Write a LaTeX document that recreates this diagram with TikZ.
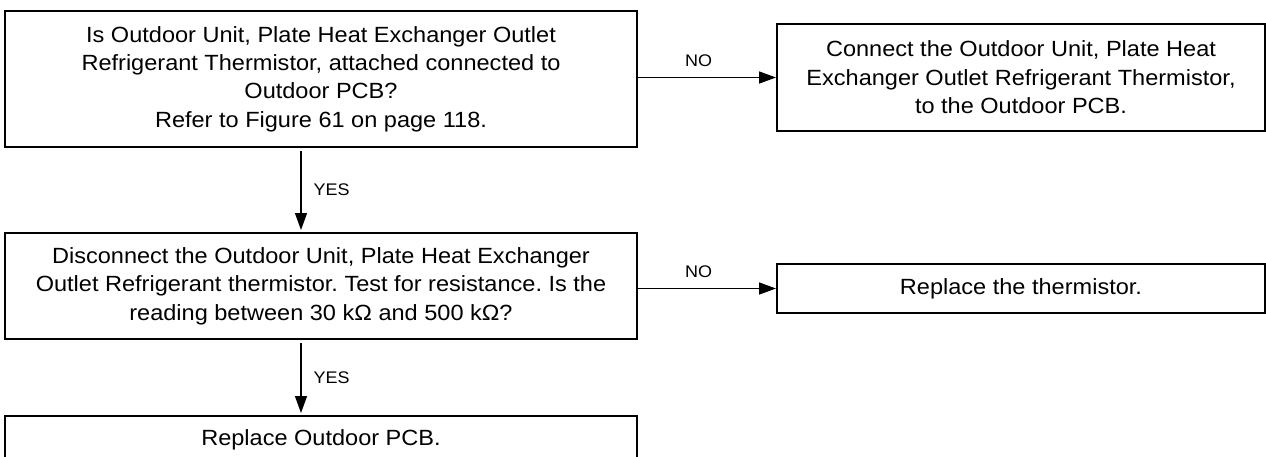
\documentclass[tikz,border=0pt]{standalone}
\usepackage{fontspec}
\setmainfont{Liberation Sans}[FakeStretch=1.07]
\usepackage{tikz}
\usetikzlibrary{positioning, calc, arrows.meta}
\frenchspacing
\definecolor{Ink}{HTML}{000000}
\definecolor{Paper}{HTML}{FFFFFF}
\tikzset{
    stepbox/.style={rectangle, draw=Ink, line width=1pt, fill=Paper, text=Ink, align=center, inner sep=0pt, font=\fontsize{11}{14.2}\selectfont},
    arrow/.style={-{Triangle[length=8.5pt, width=6pt]}, line width=0.7pt, color=Ink},
    answer/.style={font=\fontsize{8.4}{10}\selectfont, text=Ink, inner sep=2pt},
}

\begin{document}
\begin{tikzpicture}[x=0.5pt, y=-0.5pt]
    \useasboundingbox (0,0) rectangle (1266,456);

    % Domande (colonna sinistra)
    \node[stepbox, minimum width=316pt, minimum height=68pt] (q1) at (321,79)
        {Is Outdoor Unit, Plate Heat Exchanger Outlet\\Refrigerant Thermistor, attached connected to\\Outdoor PCB?\\Refer to Figure 61 on page 118.};
    \node[stepbox, minimum width=316pt, minimum height=53pt] (q2) at (321,286)
        {Disconnect the Outdoor Unit, Plate Heat Exchanger\\Outlet Refrigerant thermistor. Test for resistance. Is the\\reading between 30 kΩ and 500 kΩ?};
    \node[stepbox, minimum width=316pt, minimum height=24pt] (r3) at (321,440)
        {Replace Outdoor PCB.};

    % Azioni (colonna destra)
    \node[stepbox, minimum width=244pt, minimum height=53.5pt] (r1) at (1021,77.5)
        {Connect the Outdoor Unit, Plate Heat\\Exchanger Outlet Refrigerant Thermistor,\\to the Outdoor PCB.};
    \node[stepbox, minimum width=244pt, minimum height=24.5pt] (r2) at (1021,288.5)
        {Replace the thermistor.};

    % Risposte NO
    \draw[arrow] (q1.east |- r1.west) -- (r1.west) node[answer, pos=0.44, above=3pt] {NO};
    \draw[arrow] (q2.east |- r2.west) -- (r2.west) node[answer, pos=0.44, above=3pt] {NO};

    % Risposte YES
    \draw[arrow, shorten <=1.5pt, shorten >=1pt] ([xshift=-10pt]q1.south) -- ([xshift=-10pt]q2.north)
        node[answer, midway, right=4pt] {YES};
    \draw[arrow, shorten <=1.5pt, shorten >=1pt] ([xshift=-10pt]q2.south) -- ([xshift=-10pt]r3.north)
        node[answer, midway, right=4pt] {YES};
\end{tikzpicture}
\end{document}
